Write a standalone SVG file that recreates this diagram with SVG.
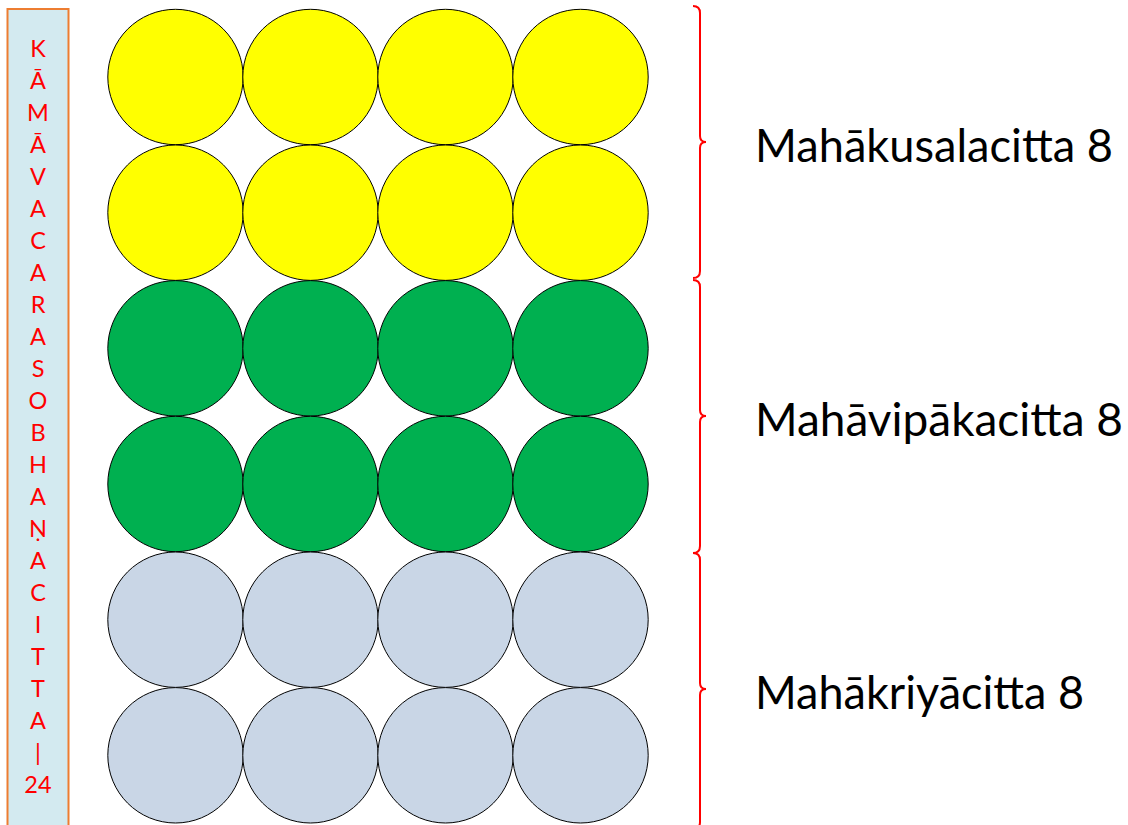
<svg xmlns="http://www.w3.org/2000/svg" width="1128" height="825" viewBox="0 0 1128 825">
<style>
.c{stroke:#000;stroke-width:1}
.y{fill:#FFFF00}
.g{fill:#00B050}
.s{fill:#C9D6E6}
.v{font-family:Lato,"Liberation Sans",sans-serif;font-size:23.5px;fill:#FF0000;text-anchor:middle}
.lab{font-family:Lato,"Liberation Sans",sans-serif;font-size:46px;fill:#000}
.br{fill:none;stroke:#FF0000;stroke-width:2}
</style>
<rect width="1128" height="825" fill="#fff"/>
<g id="sidebar">
<rect x="7.5" y="9" width="61" height="830" fill="#D3EAF0" stroke="#ED7D31" stroke-width="2"/>
<text class="v" x="38" y="57">K</text>
<text class="v" x="38" y="89">Ā</text>
<text class="v" x="38" y="121">M</text>
<text class="v" x="38" y="153">Ā</text>
<text class="v" x="38" y="185">V</text>
<text class="v" x="38" y="217">A</text>
<text class="v" x="38" y="249">C</text>
<text class="v" x="38" y="281">A</text>
<text class="v" x="38" y="313">R</text>
<text class="v" x="38" y="345">A</text>
<text class="v" x="38" y="377">S</text>
<text class="v" x="38" y="409">O</text>
<text class="v" x="38" y="441">B</text>
<text class="v" x="38" y="473">H</text>
<text class="v" x="38" y="505">A</text>
<text class="v" x="38" y="537">Ṇ</text>
<text class="v" x="38" y="569">A</text>
<text class="v" x="38" y="601">C</text>
<text class="v" x="38" y="633">I</text>
<text class="v" x="38" y="665">T</text>
<text class="v" x="38" y="697">T</text>
<text class="v" x="38" y="729">A</text>
<text class="v" x="38" y="761">|</text>
<text class="v" x="38" y="793">24</text>
</g>
<g id="kusala">
<circle class="c y" cx="175.5" cy="77" r="67.7"/>
<circle class="c y" cx="310.5" cy="77" r="67.7"/>
<circle class="c y" cx="445.5" cy="77" r="67.7"/>
<circle class="c y" cx="580.5" cy="77" r="67.7"/>
<circle class="c y" cx="175.5" cy="212.7" r="67.7"/>
<circle class="c y" cx="310.5" cy="212.7" r="67.7"/>
<circle class="c y" cx="445.5" cy="212.7" r="67.7"/>
<circle class="c y" cx="580.5" cy="212.7" r="67.7"/>
</g>
<g id="vipaka">
<circle class="c g" cx="175.5" cy="348.3" r="67.7"/>
<circle class="c g" cx="310.5" cy="348.3" r="67.7"/>
<circle class="c g" cx="445.5" cy="348.3" r="67.7"/>
<circle class="c g" cx="580.5" cy="348.3" r="67.7"/>
<circle class="c g" cx="175.5" cy="484" r="67.7"/>
<circle class="c g" cx="310.5" cy="484" r="67.7"/>
<circle class="c g" cx="445.5" cy="484" r="67.7"/>
<circle class="c g" cx="580.5" cy="484" r="67.7"/>
</g>
<g id="kriya">
<circle class="c s" cx="175.5" cy="619.7" r="67.7"/>
<circle class="c s" cx="310.5" cy="619.7" r="67.7"/>
<circle class="c s" cx="445.5" cy="619.7" r="67.7"/>
<circle class="c s" cx="580.5" cy="619.7" r="67.7"/>
<circle class="c s" cx="175.5" cy="755.3" r="67.7"/>
<circle class="c s" cx="310.5" cy="755.3" r="67.7"/>
<circle class="c s" cx="445.5" cy="755.3" r="67.7"/>
<circle class="c s" cx="580.5" cy="755.3" r="67.7"/>
</g>
<g id="connectors">
<path class="br" d="M693,6 Q700,6 700,13 L700,136 Q700,142 706,142 Q700,142 700,148 L700,271 Q700,278 693,278"/>
<path class="br" d="M693,280 Q700,280 700,287 L700,410 Q700,416 706,416 Q700,416 700,422 L700,546 Q700,553 693,553"/>
<path class="br" d="M693,553 Q700,553 700,560 L700,683 Q700,689 706,689 Q700,689 700,695 L700,822 Q700,829 693,829"/>
</g>
<g id="labels">
<text class="lab" x="755" y="162" textLength="358" lengthAdjust="spacingAndGlyphs">Mahākusalacitta 8</text>
<text class="lab" x="755" y="436" textLength="368" lengthAdjust="spacingAndGlyphs">Mahāvipākacitta 8</text>
<text class="lab" x="755" y="709" textLength="329" lengthAdjust="spacingAndGlyphs">Mahākriyācitta 8</text>
</g>
</svg>
